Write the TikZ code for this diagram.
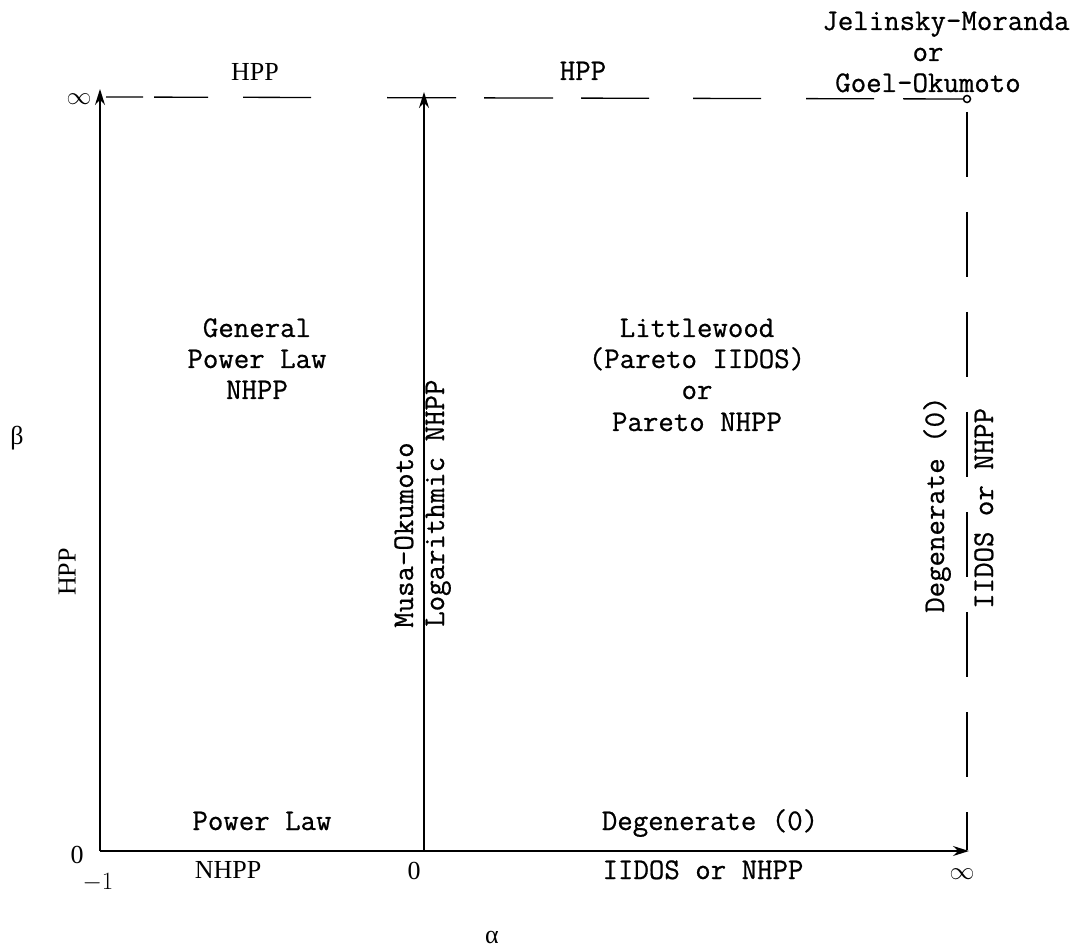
\documentclass[tikz,border=0pt]{standalone}
\usepackage{fontspec}
\setmainfont{Liberation Serif}
\newfontfamily\tth[FakeBold=0.7]{Latin Modern Mono}
\usetikzlibrary{arrows.meta}
\begin{document}
\begin{tikzpicture}[x=1pt,y=-1pt,
  tt/.style={font=\fontsize{30}{31}\selectfont\tth, inner sep=0pt, anchor=base},
  rm/.style={font=\fontsize{26}{29}\selectfont\rmfamily, inner sep=0pt},
  axis/.style={line width=1.3pt},
  tip/.style={-{Stealth[length=16pt,width=10pt]}}]
\useasboundingbox (0,0) rectangle (1082,949);
% coordinates
\coordinate (O) at (100,851);
\coordinate (LT) at (100,89);
\coordinate (MB) at (424,851);
\coordinate (MT) at (424,92);
\coordinate (RB) at (969,851);
\coordinate (TL) at (106,97);
\coordinate (TR) at (967,99);
\coordinate (RT) at (967,112);
\coordinate (RBt) at (967,850);
% axes
\draw[axis,tip] (O) -- (LT);
\draw[axis,tip] (MB) -- (MT);
\draw[axis,tip] (O) -- (RB);
\draw[axis, dash pattern=on 37pt off 11pt on 54pt off 35pt on 68pt off 76pt on 69pt off 28pt on 69pt off 28pt on 68pt off 44pt on 68pt off 45pt on 68pt off 29pt on 70pt off 10pt] (TL) -- (TR);
\draw[axis, dash pattern=on 65pt off 35pt] (RT) -- (RBt);
\draw[line width=1.5pt, fill=white] (TR) circle (3.5pt);
% top labels
\node[tt] (jm1) at (946,30) {Jelinsky-Moranda};
\node[tt] (jm2) at (928,61) {or};
\node[tt] (jm3) at (928,92) {Goel-Okumoto};
\node[rm] (hpp1) at (255,72) {HPP};
\node[tt] (hpp2) at (583,80) {HPP};
\node[rm] (inf1) at (79,99) {$\infty$};
% regions
\node[tt] (g1) at (257,337) {General};
\node[tt] (g2) at (257,368) {Power Law};
\node[tt] (g3) at (257,399) {NHPP};
\node[tt] (l1) at (697,337) {Littlewood};
\node[tt] (l2) at (697,368) {(Pareto IIDOS)};
\node[tt] (l3) at (697,399) {or};
\node[tt] (l4) at (697,431) {Pareto NHPP};
% left side
\node[rm] (beta) at (17,438) {β};
\node[rm, rotate=90] (hpp3) at (67,572) {HPP};
% middle vertical
\node[tt, rotate=90, anchor=base west] (mo) at (413,628) {Musa-Okumoto};
\node[tt, rotate=90, anchor=base west] (ln) at (444,627) {Logarithmic NHPP};
% right vertical
\node[tt, rotate=90, anchor=base west] (dg2) at (944,613) {Degenerate (0)};
\node[tt, rotate=90, anchor=base west] (io2) at (993,609) {IIDOS or NHPP};
% bottom
\node[tt] (pl) at (262,830) {Power Law};
\node[tt] (dg1) at (710,830) {Degenerate (0)};
\node[rm] (z1) at (77,855) {0};
\node[rm] (m1) at (98,883) {$-1$};
\node[rm] (nh) at (228,870) {NHPP};
\node[rm] (z2) at (414,871) {0};
\node[tt] (io1) at (703,879) {IIDOS or NHPP};
\node[rm] (inf2) at (962,874) {$\infty$};
\node[rm] (alpha) at (492,937) {α};
\end{tikzpicture}
\end{document}
